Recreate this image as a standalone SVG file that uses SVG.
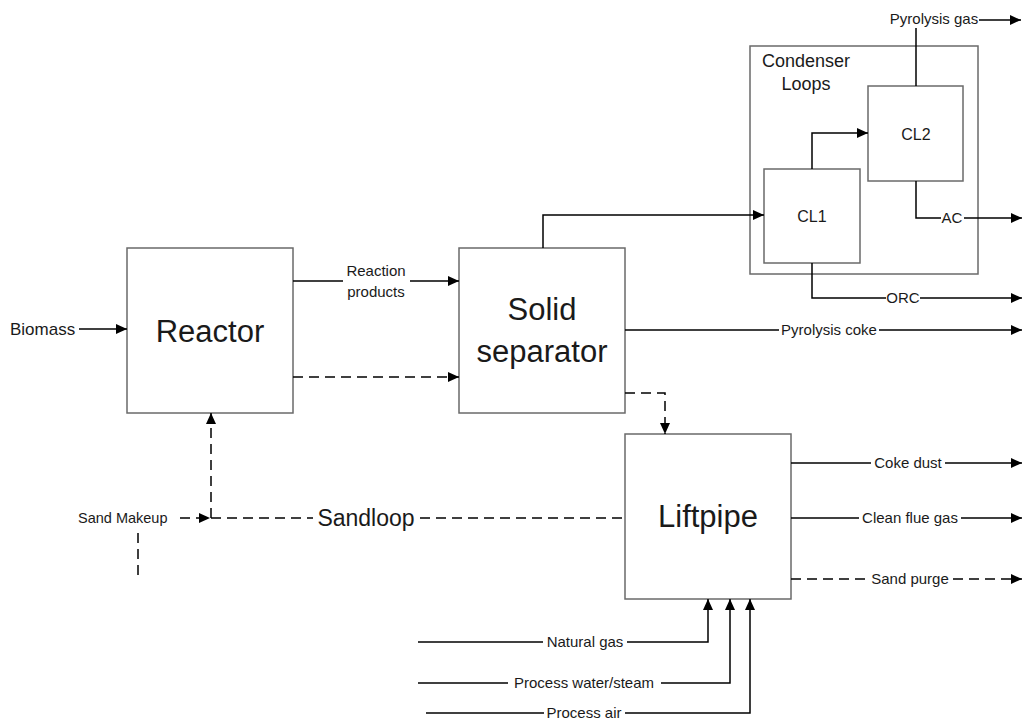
<svg xmlns="http://www.w3.org/2000/svg" width="1027" height="720" viewBox="0 0 1027 720">
<style>
text{font-family:"Liberation Sans",Arial,sans-serif;fill:#1a1a1a}
.box{fill:#fff;stroke:#6a6a6a;stroke-width:1.5}
.grp{fill:none;stroke:#6a6a6a;stroke-width:1.5}
.big{font-size:31px;text-anchor:middle}
.sm{font-size:15px;text-anchor:middle}
.mid{font-size:18px;text-anchor:middle}
.ln{fill:none;stroke:#000;stroke-width:1.5}
.ds{fill:none;stroke:#000;stroke-width:1.5;stroke-dasharray:10 6}
</style>
<defs>
<marker id="ah" markerUnits="userSpaceOnUse" markerWidth="12" markerHeight="10" refX="11" refY="5" orient="auto">
<path d="M0,0 L11,5 L0,10 Z" fill="#000"/>
</marker>
</defs>
<rect width="1027" height="720" fill="#fff"/>

<g id="condenser-loops">
<rect class="grp" x="750" y="46" width="228" height="228"/>
<text class="mid" x="806" y="67">Condenser</text>
<text class="mid" x="806" y="90">Loops</text>
</g>
<g id="reactor">
<rect class="box" x="127" y="248" width="166" height="165"/>
<text class="big" x="210" y="342">Reactor</text>
</g>
<g id="solid-separator">
<rect class="box" x="459" y="248" width="166" height="165"/>
<text class="big" x="542" y="320">Solid</text>
<text class="big" x="542" y="362">separator</text>
</g>
<g id="liftpipe">
<rect class="box" x="625" y="434" width="166" height="165"/>
<text class="big" x="708" y="527">Liftpipe</text>
</g>
<g id="cl1">
<rect class="box" x="764" y="169" width="96" height="94"/>
<text class="sm" x="812" y="222" style="font-size:16px">CL1</text>
</g>
<g id="cl2">
<rect class="box" x="868" y="86" width="95" height="95"/>
<text class="sm" x="916" y="140" style="font-size:16px">CL2</text>
</g>

<g id="connectors">
<text x="10" y="335" style="font-size:17px">Biomass</text>
<path class="ln" d="M79,329 H127" marker-end="url(#ah)"/>
<path class="ln" d="M293,281 H343"/>
<path class="ln" d="M410,281 H459" marker-end="url(#ah)"/>
<text class="sm" x="376" y="276">Reaction</text>
<text class="sm" x="376" y="297">products</text>
<path class="ds" d="M293,377 H459" marker-end="url(#ah)"/>
<path class="ln" d="M543,248 V215 H764" marker-end="url(#ah)"/>
<path class="ln" d="M812,169 V133 H868" marker-end="url(#ah)"/>
<path class="ln" d="M916,86 V28"/>
<text class="sm" x="934" y="24">Pyrolysis gas</text>
<path class="ln" d="M979,20 H1021" marker-end="url(#ah)"/>
<path class="ln" d="M916,181 V218 H941"/>
<text class="sm" x="952" y="223">AC</text>
<path class="ln" d="M964,218 H1022" marker-end="url(#ah)"/>
<path class="ln" d="M812,263 V298 H886"/>
<text class="sm" x="903" y="303">ORC</text>
<path class="ln" d="M920,298 H1022" marker-end="url(#ah)"/>
<path class="ln" d="M625,330 H779"/>
<text class="sm" x="829" y="335">Pyrolysis coke</text>
<path class="ln" d="M879,330 H1022" marker-end="url(#ah)"/>
<path class="ds" d="M625,393 H665 V434" marker-end="url(#ah)"/>
<path class="ln" d="M791,463 H871"/>
<text class="sm" x="908" y="468">Coke dust</text>
<path class="ln" d="M945,463 H1022" marker-end="url(#ah)"/>
<path class="ln" d="M791,518 H859"/>
<text class="sm" x="910" y="523">Clean flue gas</text>
<path class="ln" d="M961,518 H1022" marker-end="url(#ah)"/>
<path class="ds" d="M791,579 H867"/>
<text class="sm" x="910" y="584">Sand purge</text>
<path class="ds" d="M953,579 H1022" marker-end="url(#ah)"/>
<path class="ln" d="M418,642 H543"/>
<text class="sm" x="585" y="647">Natural gas</text>
<path class="ln" d="M627,642 H708 V599" marker-end="url(#ah)"/>
<path class="ln" d="M418,683 H508"/>
<text class="sm" x="584" y="688">Process water/steam</text>
<path class="ln" d="M661,683 H730 V599" marker-end="url(#ah)"/>
<path class="ln" d="M426,713 H544"/>
<text class="sm" x="584" y="718">Process air</text>
<path class="ln" d="M625,713 H750 V599" marker-end="url(#ah)"/>
<text x="78" y="523" style="font-size:14.5px">Sand Makeup</text>
<path class="ds" d="M180,518 H210" stroke-dasharray="8 6" marker-end="url(#ah)"/>
<path class="ds" d="M211,518 V413" marker-end="url(#ah)"/>
<path class="ds" d="M211,518 H313"/>
<text x="366" y="526" style="font-size:23px;text-anchor:middle">Sandloop</text>
<path class="ds" d="M420,518 H625"/>
<path class="ds" d="M138,533 V580"/>
</g>
</svg>
